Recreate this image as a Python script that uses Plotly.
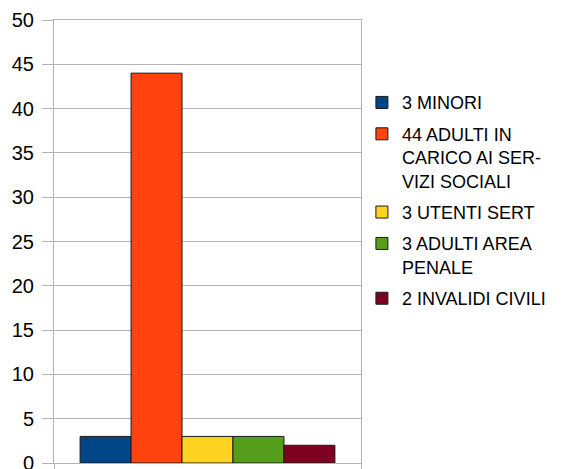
import plotly.graph_objects as go

series_names = [
    "3 MINORI",
    "44 ADULTI IN<br>CARICO AI SER-<br>VIZI SOCIALI",
    "3 UTENTI SERT",
    "3 ADULTI AREA<br>PENALE",
    "2 INVALIDI CIVILI",
]
series_values = [3, 44, 3, 3, 2]
series_colors = ["#004586", "#ff420e", "#ffd320", "#579d1c", "#7e0021"]

fig = go.Figure()
for i, (name, val, col) in enumerate(zip(series_names, series_values, series_colors)):
    fig.add_trace(go.Bar(
        x=[0], y=[val], name=name, legendgroup=f"g{i}",
        marker=dict(color=col, line=dict(color="#1a1a1a", width=1)),
    ))

grid = "#b3b3b3"
fig.update_layout(
    width=559, height=475,
    margin=dict(l=46, r=206, t=12, b=20),
    paper_bgcolor="white", plot_bgcolor="white",
    barmode="group", bargap=0.17, bargroupgap=0,
    font=dict(family="Liberation Sans", color="#000000"),
    showlegend=True,
    legend=dict(
        x=1.003, xanchor="left", y=0.855, yanchor="top",
        font=dict(size=18, family="Liberation Sans"),
        tracegroupgap=5, itemwidth=30, valign="top",
        bgcolor="rgba(0,0,0,0)",
    ),
    xaxis=dict(
        range=[-0.5, 0.5], tickvals=[-0.5, 0.5], ticktext=["", ""],
        showgrid=False, showline=True, linecolor=grid, mirror=True,
        ticks="outside", ticklen=8, tickcolor=grid, zeroline=False,
        automargin=False,
    ),
    yaxis=dict(
        range=[0, 50], dtick=5, tick0=0,
        showgrid=True, gridcolor=grid, gridwidth=1,
        showline=True, linecolor=grid, mirror=True,
        ticks="outside", ticklen=11, tickcolor=grid,
        tickfont=dict(size=20, family="Liberation Sans", color="#000000"),
        ticklabelstandoff=4,
        zeroline=False, automargin=False,
    ),
)

fig.write_html("out.html")
